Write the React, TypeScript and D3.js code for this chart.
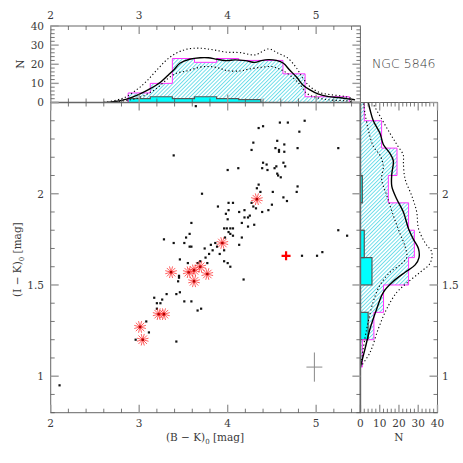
import React from 'react';
import * as d3 from 'd3';

// ---------- data ----------
const blackPts: [number, number][] = [
  [3.64, 2.48], [4.35, 2.36], [4.40, 2.37], [4.59, 2.39], [4.68, 2.39], [4.87, 2.40], [4.81, 2.34],
  [4.29, 2.28], [4.27, 2.24], [4.56, 2.29], [4.64, 2.27], [4.54, 2.25], [4.58, 2.24], [4.58, 2.23],
  [4.64, 2.23], [4.79, 2.25], [3.39, 2.21], [5.25, 2.25], [4.40, 2.17], [4.44, 2.16], [4.39, 2.14],
  [4.45, 2.13], [4.53, 2.14], [4.55, 2.15], [4.63, 2.17], [4.65, 2.15], [4.00, 2.13], [4.12, 2.14],
  [4.56, 2.11], [4.57, 2.10], [4.60, 2.09], [3.71, 2.00], [4.79, 2.04], [4.78, 2.01], [5.25, 1.80],
  [5.35, 1.77], [4.84, 1.66], [5.01, 1.66], [5.07, 1.68], [4.50, 1.94], [4.35, 2.05], [4.33, 2.03],
  [4.37, 2.01], [4.51, 2.01], [4.63, 1.98], [4.67, 1.96], [4.01, 1.91],
  [3.89, 1.93], [4.01, 1.95], [4.06, 1.95], [4.27, 1.95], [4.29, 1.93], [4.32, 1.92], [4.46, 1.91],
  [4.39, 1.90], [4.19, 1.91], [4.13, 1.90], [4.19, 1.87], [4.23, 1.87], [4.25, 1.88], [4.16, 1.84],
  [4.23, 1.82], [4.30, 1.83], [3.98, 1.89], [4.00, 1.86], [3.96, 1.81], [3.99, 1.81], [4.03, 1.81],
  [4.06, 1.81], [4.01, 1.79], [4.03, 1.78], [3.97, 1.76], [4.06, 1.77], [4.16, 1.76], [4.13, 1.72],
  [3.59, 1.84], [3.57, 1.78], [3.53, 1.76], [3.51, 1.73], [3.39, 1.73], [3.28, 1.75], [3.57, 1.71],
  [3.59, 1.71], [3.74, 1.70], [3.81, 1.72], [3.83, 1.69], [3.86, 1.73], [3.88, 1.71], [3.91, 1.67],
  [3.96, 1.69], [3.79, 1.67], [3.75, 1.65], [3.69, 1.63], [3.77, 1.62], [3.55, 1.62], [3.46, 1.64],
  [3.66, 1.62], [3.96, 1.63], [4.00, 1.62], [4.03, 1.60], [3.45, 1.55], [3.45, 1.54], [3.44, 1.52],
  [4.18, 1.53],
  [3.17, 1.43], [3.20, 1.40], [3.24, 1.40], [3.26, 1.42], [3.31, 1.45], [3.42, 1.45], [3.46, 1.46],
  [3.51, 1.41], [3.59, 1.41], [3.20, 1.37], [3.08, 1.30], [3.11, 1.24], [2.96, 1.20], [3.42, 1.19],
  [3.66, 1.36], [3.70, 1.37], [2.10, 0.95],
];

const starPts: [number, number][] = [
  [4.33, 1.97], [3.94, 1.73], [3.36, 1.57], [3.56, 1.57], [3.62, 1.58], [3.69, 1.60],
  [3.77, 1.56], [3.62, 1.52], [3.22, 1.34], [3.28, 1.34], [3.01, 1.27], [3.04, 1.20],
];
const plusPts: [number, number][] = [[4.66, 1.66]];
const errBar = { x: 4.98, y: 1.05, dx: 0.09, dy: 0.08 };

// top histogram (B-K)
const topEdges = [2.875, 3.125, 3.375, 3.625, 3.875, 4.125, 4.375, 4.625, 4.875, 5.125, 5.375];
const topAll = [5, 10, 23, 21, 23, 22, 22, 15, 3, 3];
const topRedEdges = [2.875, 3.125, 3.375, 3.625, 3.875, 4.125, 4.375];
const topRed = [2, 3, 2, 3, 2, 1.5];

// right histogram (I-K)
const rightEdges = [1.05, 1.2, 1.35, 1.5, 1.65, 1.8, 1.95, 2.1, 2.25, 2.4, 2.55];
const rightAll = [1, 7, 12, 25, 28, 25, 14.5, 19, 11, 2];
const rightRedLo = [1.2, 1.5, 1.65, 1.95];
const rightRedHi = [1.35, 1.65, 1.8, 2.1];
const rightRed = [4, 6, 2, 1];

// smoothed distributions, top: [B-K, N]
const topSolid: [number, number][] = [
  [2.6, 0], [2.67, 0.2], [2.86, 1.8], [3.01, 4.5], [3.12, 7.1], [3.24, 10.6], [3.33, 14.4], [3.39, 17],
  [3.46, 20.5], [3.57, 22.6], [3.69, 23.4], [3.78, 23.4], [3.88, 22.6], [3.99, 21.9], [4.08, 22.3],
  [4.20, 21.9], [4.31, 21], [4.38, 21.9], [4.46, 22.4], [4.55, 22.0], [4.63, 20.5], [4.70, 17],
  [4.78, 13.2], [4.85, 9.2], [4.93, 6.6], [5.02, 4.5], [5.14, 3.1], [5.25, 2.6], [5.38, 1.8], [5.44, 1.4],
];
const topUpper: [number, number][] = [
  [2.6, 0], [2.82, 2.3], [2.97, 6.6], [3.08, 11], [3.20, 17], [3.31, 22.3], [3.42, 25.8], [3.54, 27.9],
  [3.69, 28.4], [3.84, 27.5], [3.99, 26.3], [4.14, 26.1], [4.31, 24.9], [4.46, 28], [4.57, 25.8],
  [4.68, 23.2], [4.78, 17.9], [4.85, 12.7], [4.93, 8.3], [5.04, 5.2], [5.18, 4], [5.33, 3.1], [5.42, 1.9],
];
const topLower: [number, number][] = [
  [2.65, 0], [2.90, 1.4], [3.05, 3.5], [3.20, 7.5], [3.33, 12.7], [3.42, 15.3], [3.54, 16.5], [3.69, 18.5],
  [3.80, 18.8], [3.91, 17.9], [3.99, 16.7], [4.14, 16.5], [4.23, 17.4], [4.38, 18.4], [4.50, 18.8],
  [4.61, 17], [4.72, 13.6], [4.82, 9.2], [4.89, 4.9], [4.99, 2.8], [5.14, 1.4], [5.33, 0.9], [5.42, 0.5],
];
// right: [I-K, N]
const rightSolid: [number, number][] = [
  [1.05, 0], [1.15, 2.4], [1.26, 5], [1.37, 8.5], [1.46, 11.9], [1.52, 17.1], [1.57, 23.2], [1.61, 28.4],
  [1.65, 30.4], [1.70, 30.1], [1.75, 27.5], [1.81, 24.9], [1.90, 22.3], [1.97, 18.9], [2.04, 16.3],
  [2.11, 16.3], [2.18, 17.1], [2.22, 15.4], [2.27, 11.9], [2.33, 10.2], [2.40, 6.7], [2.46, 5], [2.50, 4.1],
];
const rightUpper: [number, number][] = [
  [1.05, 0], [1.13, 5], [1.26, 9.3], [1.37, 13.7], [1.46, 18.9], [1.51, 24], [1.57, 31], [1.62, 36.2],
  [1.68, 37], [1.73, 33.6], [1.81, 30.1], [1.90, 29.2], [1.99, 26.6], [2.08, 23.2], [2.17, 22.3],
  [2.21, 22.3], [2.27, 18.9], [2.33, 15.4], [2.41, 11], [2.49, 6.7],
];
const rightLower: [number, number][] = [
  [1.05, 0], [1.21, 2.4], [1.30, 4.1], [1.41, 6.7], [1.50, 10.2], [1.57, 15.4], [1.61, 20.6], [1.65, 24],
  [1.71, 23.2], [1.78, 20.6], [1.88, 17.1], [1.99, 13.7], [2.08, 11], [2.15, 11.9], [2.21, 10.2],
  [2.26, 6.7], [2.35, 4.1], [2.44, 2.4], [2.50, 1.5],
];

const xTickLabels = [2, 3, 4, 5];
const yTickLabels = [1, 1.5, 2];
const nTickLabels = [0, 10, 20, 30, 40];

// ---------- layout ----------
const X0 = 50.7, X1 = 360.4, XR = 437.5;
const YT = 26, Y1 = 102.5, Y2 = 412.7;

const x = d3.scaleLinear().domain([2, 5.5]).range([X0, X1]);
const y = d3.scaleLinear().domain([0.8, 2.5]).range([Y2, Y1]);
const nTop = d3.scaleLinear().domain([0, 40]).range([Y1, YT]);
const nRight = d3.scaleLinear().domain([0, 40]).range([X1, XR]);

const FONT = 'DejaVu Serif';
const TXT = '#3a3a3a';
const FRAME = '#666';

function stepTop(edges: number[], vals: number[]) {
  let p = `M${x(edges[0])},${nTop(0)}`;
  vals.forEach((v, i) => {
    p += `L${x(edges[i])},${nTop(v)}L${x(edges[i + 1])},${nTop(v)}`;
  });
  p += `L${x(edges[edges.length - 1])},${nTop(0)}`;
  return p;
}
function stepRight(edges: number[], vals: number[]) {
  let p = `M${nRight(0)},${y(edges[0])}`;
  vals.forEach((v, i) => {
    p += `L${nRight(v)},${y(edges[i])}L${nRight(v)},${y(edges[i + 1])}`;
  });
  p += `L${nRight(0)},${y(edges[edges.length - 1])}`;
  return p;
}

const lineTop = d3.line<[number, number]>().x(d => x(d[0])).y(d => nTop(d[1])).curve(d3.curveCatmullRom);
const lineRight = d3.line<[number, number]>().x(d => nRight(d[1])).y(d => y(d[0])).curve(d3.curveCatmullRom);

type Tick = { v: number; major: boolean };
const xTicks: Tick[] = d3.range(2, 5.5001, 0.2).map(v => ({ v, major: Math.abs(v - Math.round(v)) < 1e-6 }));
const yTicks: Tick[] = d3.range(0.8, 2.5001, 0.1).map(v => ({ v, major: Math.abs(v * 2 - Math.round(v * 2)) < 1e-6 }));
const nTicks: Tick[] = d3.range(0, 40.001, 2).map(v => ({ v, major: Math.abs(v % 10) < 1e-6 }));

function HTicks({ ticks, scale, at, dir, k }: { ticks: Tick[]; scale: (v: number) => number; at: number; dir: number; k: string }) {
  return (
    <g>
      {ticks.map((t, i) => (
        <line key={k + i} x1={scale(t.v)} x2={scale(t.v)} y1={at} y2={at + dir * (t.major ? 8 : 4)}
          stroke={t.major ? '#9a9a9a' : '#555'} strokeWidth={t.major ? 1.4 : 0.8} />
      ))}
    </g>
  );
}
function VTicks({ ticks, scale, at, dir, k }: { ticks: Tick[]; scale: (v: number) => number; at: number; dir: number; k: string }) {
  return (
    <g>
      {ticks.map((t, i) => (
        <line key={k + i} y1={scale(t.v)} y2={scale(t.v)} x1={at} x2={at + dir * (t.major ? 8 : 4)}
          stroke={t.major ? '#9a9a9a' : '#555'} strokeWidth={t.major ? 1.4 : 0.8} />
      ))}
    </g>
  );
}

function Star({ cx, cy }: { cx: number; cy: number }) {
  const r = 6;
  const n = 6;
  return (
    <g>
      {d3.range(n).map(i => {
        const a = (i * Math.PI) / n + Math.PI / 12;
        return <line key={i} x1={cx - r * Math.cos(a)} y1={cy - r * Math.sin(a)} x2={cx + r * Math.cos(a)} y2={cy + r * Math.sin(a)}
          stroke="#ff2a2a" strokeWidth={0.75} />;
      })}
      <rect x={cx - 1.2} y={cy - 1.2} width={2.4} height={2.4} fill="#b00000" />
    </g>
  );
}

export default function App() {
  return (
    <svg width={463} height={463} style={{ position: 'absolute', left: 0, top: 0, background: '#fff' }}
      fontFamily={FONT}>
      <defs>
        <pattern id="hatch" width={2.7} height={2.7} patternUnits="userSpaceOnUse" patternTransform="rotate(45)">
          <line x1={0.5} y1={0} x2={0.5} y2={2.7} stroke="#5fdbe8" strokeWidth={0.9} />
        </pattern>
        <clipPath id="clipTop"><rect x={X0} y={YT} width={X1 - X0} height={Y1 - YT} /></clipPath>
        <clipPath id="clipRight"><rect x={X1} y={Y1} width={XR - X1} height={Y2 - Y1} /></clipPath>
        <clipPath id="clipMain"><rect x={X0} y={Y1} width={X1 - X0} height={Y2 - Y1} /></clipPath>
      </defs>

      {/* ---------- top histogram ---------- */}
      <g clipPath="url(#clipTop)">
        <path d={stepTop(topEdges, topAll)} fill="url(#hatch)" stroke="none" />
        <path d={stepTop(topRedEdges, topRed)} fill="#00ffff" stroke="#555" strokeWidth={1.2} />
        <path d={stepTop(topEdges, topAll)} fill="none" stroke="#ff33ff" strokeWidth={1} />
        <path d={lineTop(topUpper) || ''} fill="none" stroke="#000" strokeWidth={1.1} strokeDasharray="1.2,2.4" />
        <path d={lineTop(topLower) || ''} fill="none" stroke="#000" strokeWidth={1.1} strokeDasharray="1.2,2.4" />
        <path d={lineTop(topSolid) || ''} fill="none" stroke="#000" strokeWidth={1.4} />
      </g>
      <rect x={X0} y={YT} width={X1 - X0} height={Y1 - YT} fill="none" stroke={FRAME} strokeWidth={1} />
      <line x1={X0} x2={X1} y1={Y1} y2={Y1} stroke="#666" strokeWidth={1.6} />
      <HTicks ticks={xTicks} scale={x} at={YT} dir={1} k="tt" />
      <HTicks ticks={xTicks} scale={x} at={Y1} dir={-1} k="tb" />
      <VTicks ticks={nTicks} scale={nTop} at={X0} dir={1} k="tl" />
      <VTicks ticks={nTicks} scale={nTop} at={X1} dir={-1} k="tr" />
      {xTickLabels.map(v => (
        <text key={'xt' + v} x={x(v)} y={19} textAnchor="middle" fontSize={10.5} fill={TXT}>{v}</text>
      ))}
      {nTickLabels.map(v => (
        <text key={'nl' + v} x={44} y={nTop(v) + 3.8} textAnchor="end" fontSize={10.5} fill={TXT}>{v}</text>
      ))}
      <text transform={`translate(24,${(YT + Y1) / 2}) rotate(-90)`} textAnchor="middle" fontSize={10.5} fill={TXT}>N</text>
      <text x={372} y={68} fontSize={12.5} fill={TXT} fontFamily="DejaVu Sans" fontWeight={300}>NGC 5846</text>

      {/* ---------- right histogram ---------- */}
      <g clipPath="url(#clipRight)">
        <path d={stepRight(rightEdges, rightAll)} fill="url(#hatch)" stroke="none" />
        {rightRed.map((v, i) => (
          <rect key={'rr' + i} x={nRight(0)} y={y(rightRedHi[i])} width={nRight(v) - nRight(0)}
            height={y(rightRedLo[i]) - y(rightRedHi[i])} fill="#00ffff" stroke="#555" strokeWidth={1.2} />
        ))}
        <path d={stepRight(rightEdges, rightAll)} fill="none" stroke="#ff33ff" strokeWidth={1} />
        <path d={lineRight(rightUpper) || ''} fill="none" stroke="#000" strokeWidth={1.1} strokeDasharray="1.2,2.4" />
        <path d={lineRight(rightLower) || ''} fill="none" stroke="#000" strokeWidth={1.1} strokeDasharray="1.2,2.4" />
        <path d={lineRight(rightSolid) || ''} fill="none" stroke="#000" strokeWidth={1.4} />
      </g>
      <rect x={X1} y={Y1} width={XR - X1} height={Y2 - Y1} fill="none" stroke={FRAME} strokeWidth={1} />
      <line x1={X1} x2={X1} y1={Y1} y2={Y2} stroke="#666" strokeWidth={1.6} />
      <HTicks ticks={nTicks} scale={nRight} at={Y2} dir={-1} k="rb" />
      <HTicks ticks={nTicks} scale={nRight} at={Y1} dir={1} k="rt" />
      <VTicks ticks={yTicks} scale={y} at={XR} dir={-1} k="rr" />
      {nTickLabels.map(v => (
        <text key={'nb' + v} x={nRight(v)} y={427} textAnchor="middle" fontSize={10.5} fill={TXT}>{v}</text>
      ))}
      {yTickLabels.map(v => (
        <text key={'yr' + v} x={442} y={y(v) + 3.8} textAnchor="start" fontSize={10.5} fill={TXT}>{v}</text>
      ))}
      <text x={(X1 + XR) / 2} y={441} textAnchor="middle" fontSize={10.5} fill={TXT}>N</text>

      {/* ---------- main scatter ---------- */}
      <g clipPath="url(#clipMain)">
        {blackPts.map((d, i) => (
          <rect key={'b' + i} x={x(d[0]) - 1.1} y={y(d[1]) - 1.1} width={2.2} height={2.2} fill="#111" />
        ))}
        {starPts.map((d, i) => <Star key={'s' + i} cx={x(d[0])} cy={y(d[1])} />)}
        {plusPts.map((d, i) => (
          <g key={'p' + i}>
            <line x1={x(d[0]) - 4.5} x2={x(d[0]) + 4.5} y1={y(d[1])} y2={y(d[1])} stroke="#ff0000" strokeWidth={2.2} />
            <line x1={x(d[0])} x2={x(d[0])} y1={y(d[1]) - 4.5} y2={y(d[1]) + 4.5} stroke="#ff0000" strokeWidth={2.2} />
          </g>
        ))}
        <line x1={x(errBar.x - errBar.dx)} x2={x(errBar.x + errBar.dx)} y1={y(errBar.y)} y2={y(errBar.y)} stroke="#888" strokeWidth={1} />
        <line x1={x(errBar.x)} x2={x(errBar.x)} y1={y(errBar.y - errBar.dy)} y2={y(errBar.y + errBar.dy)} stroke="#888" strokeWidth={1} />
      </g>
      <rect x={X0} y={Y1} width={X1 - X0} height={Y2 - Y1} fill="none" stroke={FRAME} strokeWidth={1} />
      <HTicks ticks={xTicks} scale={x} at={Y2} dir={-1} k="mb" />
      <HTicks ticks={xTicks} scale={x} at={Y1} dir={1} k="mt" />
      <VTicks ticks={yTicks} scale={y} at={X0} dir={1} k="ml" />
      <VTicks ticks={yTicks} scale={y} at={X1} dir={-1} k="mr" />
      {xTickLabels.map(v => (
        <text key={'xb' + v} x={x(v)} y={427} textAnchor="middle" fontSize={10.5} fill={TXT}>{v}</text>
      ))}
      {yTickLabels.map(v => (
        <text key={'yl' + v} x={44} y={y(v) + 3.8} textAnchor="end" fontSize={10.5} fill={TXT}>{v}</text>
      ))}
      <text x={205} y={441} textAnchor="middle" fontSize={10.5} fill={TXT}>
        (B − K)<tspan fontSize={7} dy={2.5}>0</tspan><tspan dy={-2.5}> [mag]</tspan>
      </text>
      <text transform={`translate(21,${(Y1 + Y2) / 2 + 2}) rotate(-90)`} textAnchor="middle" fontSize={10.5} fill={TXT}>
        (I − K)<tspan fontSize={7} dy={2.5}>0</tspan><tspan dy={-2.5}> [mag]</tspan>
      </text>
    </svg>
  );
}
